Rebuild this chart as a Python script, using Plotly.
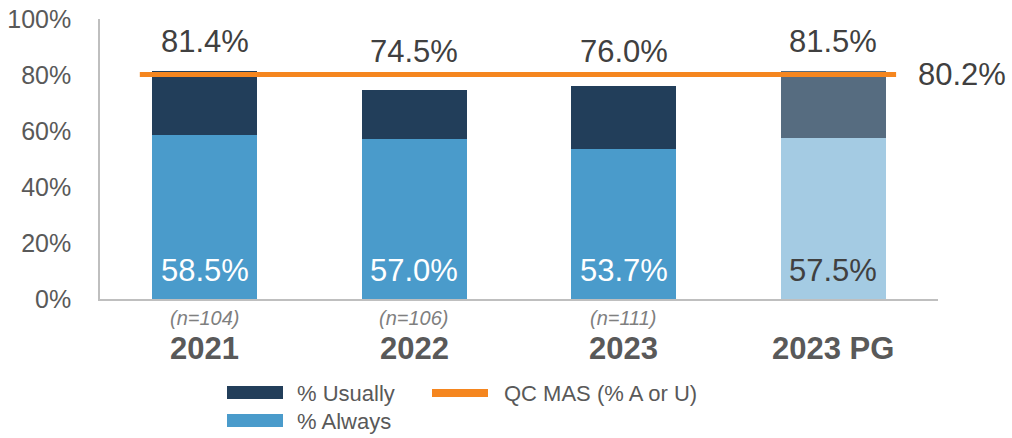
import plotly.graph_objects as go

# ---- data ----
categories = ["2021", "2022", "2023", "2023 PG"]
sample_sizes = ["(n=104)", "(n=106)", "(n=111)", ""]
pct_always = [58.5, 57.0, 53.7, 57.5]
pct_total = [81.4, 74.5, 76.0, 81.5]
pct_usually = [round(t - a, 1) for t, a in zip(pct_total, pct_always)]
benchmark = 80.2
y_ticks = [0, 20, 40, 60, 80, 100]
y_tick_labels = ["0%", "20%", "40%", "60%", "80%", "100%"]

# ---- styles ----
FONT = "Liberation Sans, Arial, sans-serif"
NAVY, BLUE = "#223E5A", "#4A9BCB"
SLATE, LIGHT = "#566C80", "#A4CBE3"
ORANGE = "#F5861F"
usually_colors = [NAVY, NAVY, NAVY, SLATE]
always_colors = [BLUE, BLUE, BLUE, LIGHT]
always_text_colors = ["white", "white", "white", "#404040"]
LINE_SPAN = (-0.31, 3.30)

fig = go.Figure()
fig.add_trace(go.Bar(x=categories, y=pct_always, marker=dict(color=always_colors, line=dict(width=0)),
                     width=0.5, showlegend=False, hoverinfo="skip"))
fig.add_trace(go.Bar(x=categories, y=pct_usually, marker=dict(color=usually_colors, line=dict(width=0)),
                     width=0.5, showlegend=False, hoverinfo="skip"))
fig.add_trace(go.Scatter(x=list(LINE_SPAN), y=[benchmark, benchmark], xaxis="x2", mode="lines",
                         line=dict(color=ORANGE, width=5), showlegend=False, hoverinfo="skip"))


def px2x(px):
    return (px - 100) / 838


def py2y(py):
    return (299 - py) / 280


ann = []
for i, (c, a, t, n, tc) in enumerate(zip(categories, pct_always, pct_total, sample_sizes, always_text_colors)):
    ann.append(dict(x=i, y=max(t, 78) + 10.5, xref="x2", yref="y", text=f"{t:.1f}%", showarrow=False,
                    yanchor="middle", font=dict(size=31, color="#404040", family=FONT)))
    ann.append(dict(x=i, y=10.3, xref="x2", yref="y", text=f"{a:.1f}%", showarrow=False,
                    yanchor="middle", font=dict(size=31, color=tc, family=FONT)))
    ann.append(dict(x=i, y=py2y(348), xref="x2", yref="paper", text=f"<b>{c}</b>", showarrow=False,
                    xanchor="center", yanchor="middle", font=dict(size=31, color="#595959", family=FONT)))
    if n:
        ann.append(dict(x=i, y=py2y(318), xref="x2", yref="paper", text=f"<i>{n}</i>", showarrow=False,
                        xanchor="center", yanchor="middle", font=dict(size=20, color="#7F7F7F", family=FONT)))
ann.append(dict(x=LINE_SPAN[1], y=benchmark, xref="x2", yref="y", text=f"{benchmark:.1f}%", showarrow=False,
                xanchor="left", yanchor="middle", xshift=20, font=dict(size=31, color="#404040", family=FONT)))

# manual legend
shapes = [
    dict(type="rect", xref="paper", yref="paper", x0=px2x(227), x1=px2x(283), y0=py2y(399), y1=py2y(386),
         fillcolor=NAVY, line=dict(width=0)),
    dict(type="rect", xref="paper", yref="paper", x0=px2x(227), x1=px2x(283), y0=py2y(427), y1=py2y(414),
         fillcolor=BLUE, line=dict(width=0)),
    dict(type="rect", xref="paper", yref="paper", x0=px2x(432), x1=px2x(488), y0=py2y(397), y1=py2y(389),
         fillcolor=ORANGE, line=dict(width=0)),
]
for label, lx, ly in [("% Usually", 295, 393), ("% Always", 295, 421), ("QC MAS (% A or U)", 502, 393)]:
    ann.append(dict(x=px2x(lx), y=py2y(ly), xref="paper", yref="paper", text=label, showarrow=False,
                    xanchor="left", yanchor="middle", font=dict(size=22, color="#595959", family=FONT)))

fig.update_layout(
    width=1012, height=438,
    margin=dict(l=100, r=74, t=19, b=139, autoexpand=False),
    barmode="stack", bargap=0.5,
    plot_bgcolor="white", paper_bgcolor="white",
    font=dict(family=FONT, color="#595959"),
    xaxis=dict(type="category", showticklabels=False, ticks="", showgrid=False, zeroline=False,
               showline=True, linecolor="#BFBFBF", linewidth=2, range=[-0.5, 3.5], automargin=False),
    xaxis2=dict(overlaying="x", range=[-0.5, 3.5], visible=False),
    yaxis=dict(range=[0, 100], tickvals=y_ticks, ticktext=y_tick_labels, showgrid=False, zeroline=False,
               showline=True, linecolor="#BFBFBF", linewidth=1.5, ticks="", ticklabelstandoff=22,
               ticklabeloverflow="allow", automargin=False,
               tickfont=dict(size=25, color="#595959", family=FONT)),
    annotations=ann, shapes=shapes, showlegend=False,
)
fig.write_html("out.html", config={"displayModeBar": False},
               post_script="document.body.style.margin='0';")
